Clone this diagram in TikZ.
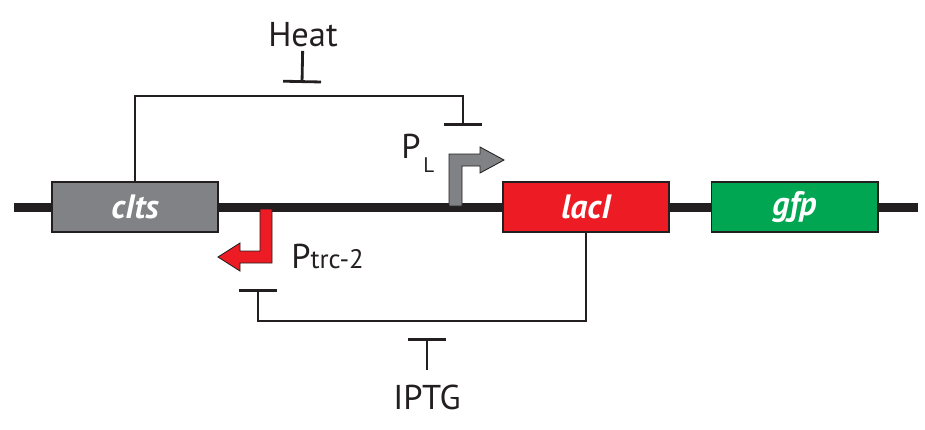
\documentclass[tikz,border=0pt]{standalone}
\usepackage{fontspec}
\setmainfont{PT Sans}
\usetikzlibrary{arrows.meta,positioning}
\definecolor{geneGray}{RGB}{128,130,133}
\definecolor{geneRed}{RGB}{237,28,36}
\definecolor{geneGreen}{RGB}{0,166,81}
\definecolor{ink}{RGB}{35,31,32}

\tikzset{
  gene/.style={draw=ink, line width=1.4pt, minimum width=4.15cm, minimum height=1.25cm,
    inner sep=0pt, text=white, font=\fontsize{24}{28}\selectfont\bfseries\itshape},
  repress/.style={ink, line width=2pt, -{Bar[width=27pt]}},
  lbl/.style={text=ink, inner sep=0pt, font=\fontsize{24.5}{28}\selectfont},
  promoter/.style={draw=ink, line width=0.6pt, line join=miter}
}

\begin{document}
\begin{tikzpicture}[x=0.025cm, y=-0.025cm]
        \useasboundingbox (0,0) rectangle (925,429);

        % DNA backbone
        \coordinate (dnaL) at (14,207.5);
        \coordinate (dnaR) at (918,207.5);
        \draw[ink, line width=6.4pt] (dnaL) -- (dnaR);

        % genes
        \node[gene, fill=geneGray] (cIts) at (135,207) {cIts};
        \node[gene, fill=geneRed] (lacI) at (586,207) {lacI};
        \node[gene, fill=geneGreen] (gfp) at (794.5,207) {gfp};

        % promoters
        \draw[promoter, fill=geneGray] (449,206) -- (449,154) -- (480,154) -- (480,147)
          -- (504,160) -- (480,173) -- (480,166) -- (462,166) -- (462,206) -- cycle;
        \draw[promoter, fill=geneRed] (260,209) -- (260,251) -- (240,251) -- (240,243)
          -- (218,257) -- (240,271) -- (240,263) -- (272,263) -- (272,209) -- cycle;
        \node[lbl, anchor=base west] (pL) at (401,158)
          {P\kern2pt\raisebox{-10pt}{\fontsize{15}{17}\selectfont L}};
        \node[lbl, anchor=base west] (pTrc) at (291,268)
          {P{\fontsize{19}{22}\selectfont trc-2}};

        % cI repression of P_L, relieved by heat
        \coordinate (heatTop) at (300,96);
        \coordinate (pLbar) at (463,126);
        \draw[repress] (cIts.north) |- (heatTop) -| (pLbar);
        \node[lbl, anchor=base] (heat) at (303,46) {Heat};
        \coordinate (heatBar) at (302,83);
        \draw[repress, shorten <=3pt] (heat) -- (heatBar);

        % LacI repression of P_trc-2, relieved by IPTG
        \coordinate (iptgLow) at (420,321);
        \coordinate (trcBar) at (258,289);
        \draw[repress] (lacI.south) |- (iptgLow) -| (trcBar);
        \node[lbl, anchor=base] (iptg) at (427,409) {IPTG};
        \coordinate (iptgBar) at (427,338);
        \draw[repress, shorten <=10pt] (iptg) -- (iptgBar);
\end{tikzpicture}
\end{document}
